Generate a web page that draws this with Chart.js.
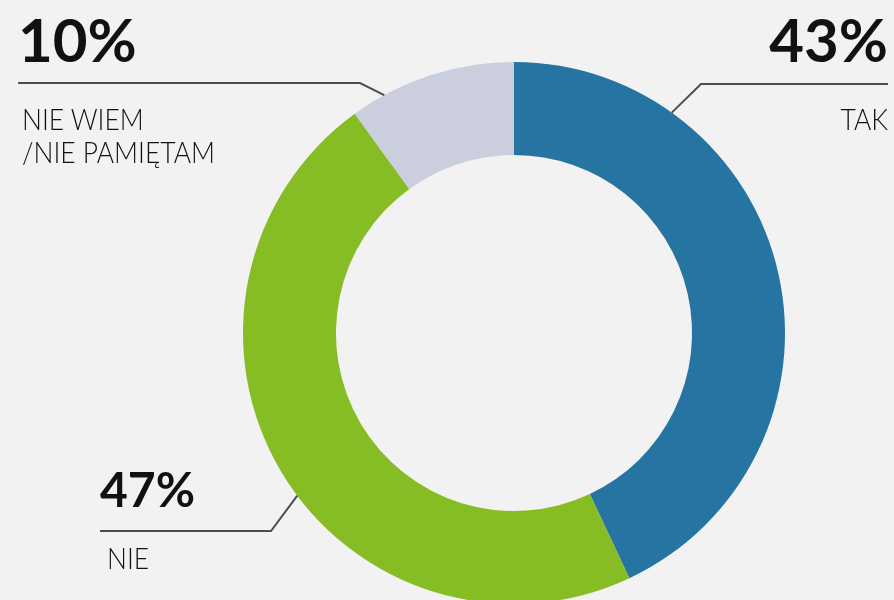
<!DOCTYPE html>
<html>
<head>
<meta charset="utf-8">
<script src="https://cdn.jsdelivr.net/npm/chart.js@4"></script>
<style>
  html, body { margin: 0; padding: 0; background: #f2f2f2; overflow: hidden; }
  #wrap { position: relative; width: 894px; height: 600px; overflow: hidden; }
  canvas { position: absolute; left: 0; top: 0; }
  .pct { position: absolute; font-family: Lato, sans-serif; font-weight: 700; font-size: 60px; line-height: 60px; color: #111; white-space: nowrap; }
  .pct.small { font-size: 48px; line-height: 48px; }
  .lbl { position: absolute; font-family: Lato, sans-serif; font-weight: 300; font-size: 30px; line-height: 33px; color: #111; white-space: nowrap; transform: scaleX(0.88); transform-origin: left top; }
  .lbl.right { transform-origin: right top; }
</style>
</head>
<body>
<div id="wrap">
  <canvas id="donut" width="894" height="604"></canvas>
</div>
<script>
// Wyniki ankiety
const categories = ['TAK', 'NIE', 'NIE WIEM\n/ NIE PAMIĘTAM'];
const values = [43, 47, 10];
const colors = ['#2574a2', '#86bc24', '#cbcfdd'];

// Położenie podpisów i linii odniesienia (kąt punktu na łuku liczony od góry, zgodnie z ruchem wskazówek)
const callouts = [
  { pct: { right: 6, top: 9 }, lbl: { right: 6, top: 102, align: 'right' }, anchorDeg: 35.6, line: [[701, 84], [888, 84]] },
  { pct: { left: 100, top: 465 }, small: true, lbl: { left: 107, top: 541 }, anchorDeg: 233.1, line: [[271, 531], [100, 531]] },
  { pct: { left: 18, top: 9 }, lbl: { left: 22, top: 102 }, anchorDeg: 331.4, line: [[360, 83], [18, 83]] }
];

// Linie odniesienia od krawędzi łuku do podpisów
const leaderLines = {
  id: 'leaderLines',
  afterDatasetsDraw(chart) {
    const ctx = chart.ctx;
    const meta = chart.getDatasetMeta(0);
    ctx.save();
    ctx.strokeStyle = '#4d4d4f';
    ctx.lineWidth = 2;
    callouts.forEach((c, i) => {
      const arc = meta.data[i];
      const a = c.anchorDeg * Math.PI / 180;
      const r = arc.outerRadius;
      ctx.beginPath();
      ctx.moveTo(arc.x + r * Math.sin(a), arc.y - r * Math.cos(a));
      c.line.forEach(p => ctx.lineTo(p[0], p[1]));
      ctx.stroke();
    });
    ctx.restore();
  }
};

new Chart(document.getElementById('donut'), {
  type: 'doughnut',
  data: {
    labels: categories,
    datasets: [{
      data: values,
      backgroundColor: colors,
      borderWidth: 0
    }]
  },
  options: {
    responsive: false,
    animation: false,
    cutout: '65.7%',
    layout: { padding: { left: 243, right: 109, top: 62, bottom: 0 } },
    plugins: { legend: { display: false }, tooltip: { enabled: false } }
  },
  plugins: [leaderLines]
});

// Podpisy: procenty i nazwy odpowiedzi
const wrap = document.getElementById('wrap');
callouts.forEach((c, i) => {
  const p = document.createElement('div');
  p.className = c.small ? 'pct small' : 'pct';
  p.textContent = values[i] + '%';
  Object.keys(c.pct).forEach(k => p.style[k] = c.pct[k] + 'px');
  wrap.appendChild(p);

  const l = document.createElement('div');
  l.className = c.lbl.align === 'right' ? 'lbl right' : 'lbl';
  l.style.textAlign = c.lbl.align || 'left';
  l.innerHTML = categories[i].replace('\n/ ', '<br>/').replace('\n', '<br>');
  ['left', 'right', 'top'].forEach(k => { if (c.lbl[k] !== undefined) l.style[k] = c.lbl[k] + 'px'; });
  wrap.appendChild(l);
});
</script>
</body>
</html>
